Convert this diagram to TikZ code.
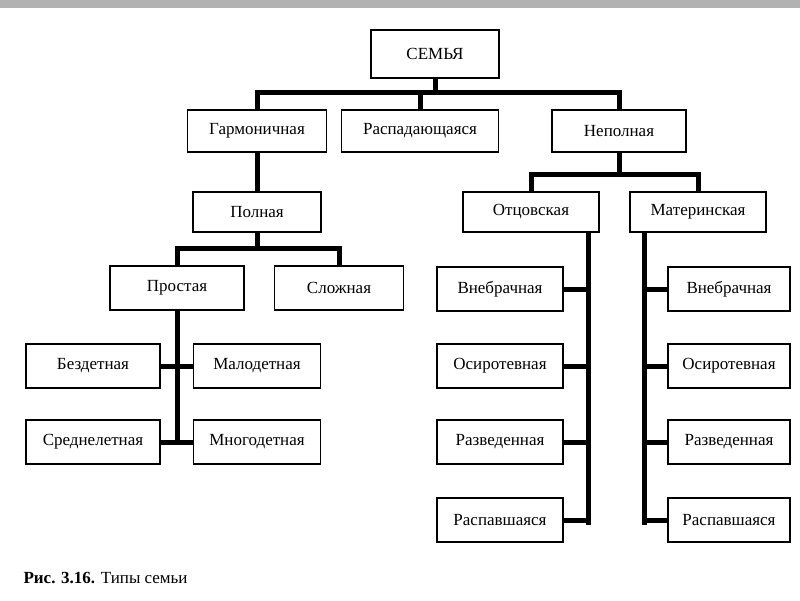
\documentclass[tikz,border=0pt]{standalone}
\usepackage{fontspec}
\setmainfont{Liberation Serif}
\begin{document}
\begin{tikzpicture}[x=1pt,y=-1pt,
  bx/.style={draw,line width=1.5pt,minimum height=42pt,inner sep=0pt,font=\fontsize{17}{19}\selectfont},
  th/.style={line width=5pt}]
\useasboundingbox (0,0) rectangle (800,600);
\fill[gray!60] (0,0) rectangle (800,8);
\node[bx,minimum width=128,minimum height=48] (s) at (435,54) {СЕМЬЯ};
\node[bx,minimum width=139] (g) at (257,131) {Гармоничная};
\node[bx,minimum width=157] (r) at (420,131) {Распадающаяся};
\node[bx,minimum width=134] (n) at (619,131) {Неполная};
\node[bx,minimum width=128,minimum height=40] (p) at (257,212) {Полная};
\node[bx,minimum width=136,minimum height=40] (o) at (531,212) {Отцовская};
\node[bx,minimum width=136,minimum height=40] (m) at (698,212) {Материнская};
\node[bx,minimum width=134,minimum height=44] (pr) at (177,288) {Простая};
\node[bx,minimum width=129,minimum height=44] (sl) at (339,288) {Сложная};
\node[bx,minimum width=134,minimum height=44] (b) at (93,366) {Бездетная};
\node[bx,minimum width=127,minimum height=44] (ml) at (257,366) {Малодетная};
\node[bx,minimum width=134,minimum height=44] (sr) at (93,442) {Среднелетная};
\node[bx,minimum width=127,minimum height=44] (mn) at (257,442) {Многодетная};
\foreach \y/\a/\t in {289/1/Внебрачная,366/2/Осиротевная,442/3/Разведенная,520/4/Распавшаяся}{
  \node[bx,minimum width=126,minimum height=44] (L\a) at (500,\y) {\t};
  \node[bx,minimum width=122,minimum height=44] (R\a) at (729,\y) {\t};
}
% connectors
\coordinate (j1) at (435,92);
\draw[th] (s.south) -- (j1);
\draw[th] (g.north) |- (j1) -| (n.north);
\draw[th] (r.north) -- (r.north |- j1);
\draw[th] (g.south) -- (p.north);
\coordinate (j2) at (619,174);
\draw[th] (n.south) -- (j2);
\draw[th] (o.north) |- (j2) -| (m.north);
\coordinate (j3) at (257,248);
\draw[th] (p.south) -- (j3);
\draw[th] (pr.north) |- (j3) -| (sl.north);
\coordinate (v1) at (177,442);
\draw[th] (pr.south) -- (v1);
\draw[th] (b.east) -- (ml.west);
\draw[th] (sr.east) -- (mn.west);
\coordinate (v2) at (588,525);
\draw[th] (588,232) -- (v2);
\coordinate (v3) at (644,525);
\draw[th] (644,232) -- (v3);
\foreach \a in {1,2,3,4}{
  \draw[th] (L\a.east) -- (L\a.east -| v2);
  \draw[th] (R\a.west) -- (R\a.west -| v3);
}
\node[anchor=west,font=\fontsize{17}{19}\selectfont] (cap) at (20,578) {\textbf{Рис. 3.16.} Типы семьи};
\end{tikzpicture}
\end{document}
